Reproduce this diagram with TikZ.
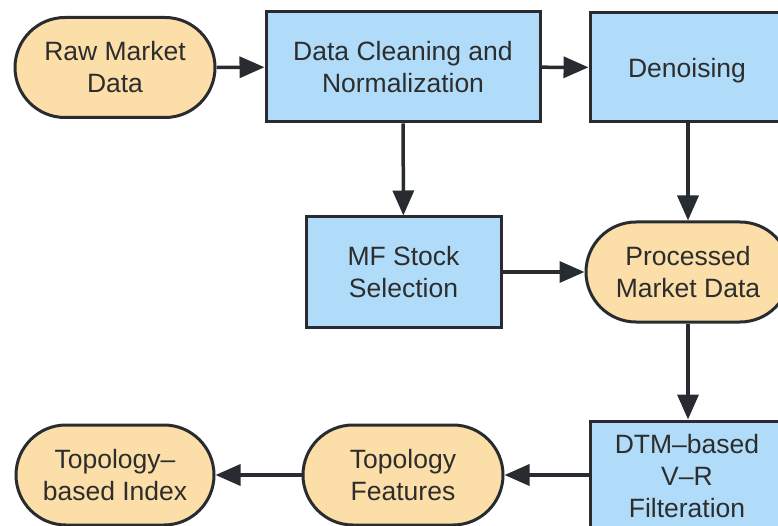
\documentclass[tikz,border=0pt]{standalone}
\usepackage{fontspec}
\setmainfont{Liberation Sans}
\usetikzlibrary{arrows.meta}
\definecolor{peach}{RGB}{252,222,168}
\definecolor{skyb}{RGB}{176,220,250}
\definecolor{edge}{RGB}{40,44,48}
\definecolor{txt}{RGB}{45,45,45}
\begin{document}
\begin{tikzpicture}[x=1pt,y=-1pt,
  base/.style={draw=edge,line width=3pt,inner sep=0pt,align=center,text=txt,
    font=\fontsize{26.5}{32}\selectfont},
  term/.style={base,fill=peach,rounded corners=50pt,minimum width=200pt,minimum height=100pt},
  proc/.style={base,fill=skyb,minimum height=110pt},
  conn/.style={draw=edge,line width=3.5pt,-{Triangle[length=25pt,width=21pt]}}]
\useasboundingbox (0,0) rectangle (778,526);
\node[term] (raw) at (115,67.5) {Raw Market\\Data};
\node[proc,minimum width=274pt] (clean) at (403,67) {Data Cleaning and\\Normalization};
\node[proc,minimum width=194pt,minimum height=109pt,text depth=0pt] (den) at (687,67.5) {Denoising};
\node[proc,minimum width=195pt] (mf) at (403.5,272) {MF Stock\\Selection};
\node[term,minimum width=204pt] (proc) at (688,272) {Processed\\Market Data};
\node[proc,minimum width=194pt] (dtm) at (687,476) {DTM--based\\V--R\\Filteration};
\node[term] (feat) at (403,475) {Topology\\Features};
\node[term,minimum width=198pt] (idx) at (115,475) {Topology--\\based Index};
\draw[conn] (raw) -- (clean);
\draw[conn] (clean) -- (den);
\draw[conn] (clean) -- (mf);
\draw[conn] (den.south -| proc.north) -- (proc.north);
\draw[conn] (mf) -- (proc);
\draw[conn] (proc.south) -- (proc.south |- dtm.north);
\draw[conn] (dtm.west |- feat.east) -- (feat.east);
\draw[conn] (feat) -- (idx);
\end{tikzpicture}
\end{document}
